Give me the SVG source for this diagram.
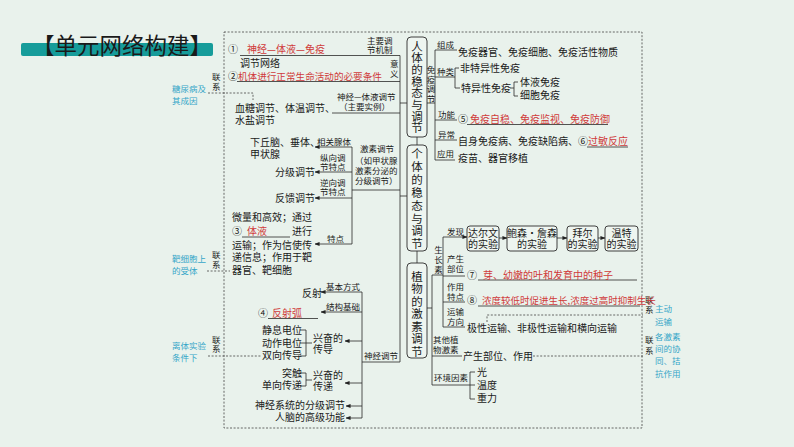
<svg xmlns="http://www.w3.org/2000/svg" width="794" height="447" viewBox="0 0 794 447">
<defs>
<marker id="ah" viewBox="0 0 6 6" refX="5.5" refY="3" markerWidth="5" markerHeight="5" orient="auto" markerUnits="userSpaceOnUse"><path d="M0,0.6 L6,3 L0,5.4z" fill="#222"/></marker>
<style>
text{font-family:"Noto Sans CJK SC","Noto Sans CJK JP",sans-serif;fill:#1a1a1a;font-size:10px}
.s{font-size:8.5px}
.r{fill:#d03a3a}
.c{fill:#35a6c8;font-size:8.5px}
.bx{font-size:11.5px}
.ln{stroke:#2a2a2a;stroke-width:0.8;fill:none}
.ar{stroke:#2a2a2a;stroke-width:0.8;fill:none;marker-end:url(#ah)}
.ds{stroke:#444;stroke-width:0.8;fill:none;stroke-dasharray:2 1.6}
.box{fill:#eef5f0;stroke:#2a2a2a;stroke-width:0.9}
</style>
</defs>
<rect width="794" height="447" fill="#e9f2ec"/>

<g id="title">
<rect x="21" y="43" width="192" height="13" rx="2" fill="#169c9a"/>
<text x="32" y="54" style="font-size:22.5px" fill="#111">【单元网络构建】</text>
</g>

<g id="frame"><rect x="224" y="32" width="418" height="396" class="ds"/></g>

<g id="connectors">
<path class="ln" d="M240,55.5 H400 V362 M237,81.5 H400 M332,113 H400 M400,103 H407 M400,196 H407 M352,190 H400 M362,362 H400"/>
<path class="ln" d="M417,137 V145 M417,251 V263"/>
<path class="ln" d="M352,147 V244"/>
<path class="ar" d="M352,147 H315"/>
<path class="ar" d="M352,172 H315"/>
<path class="ar" d="M352,198 H315"/>
<path class="ar" d="M352,244 H315"/>
<path class="ln" d="M242,237 H290"/>
<path class="ln" d="M362,292 V418"/>
<path class="ar" d="M362,292 H321"/>
<path class="ar" d="M362,312 H321"/>
<path class="ln" d="M268,318.5 H318"/>
<path class="ar" d="M362,341 H345"/>
<path class="ar" d="M362,383 H345"/>
<path class="ar" d="M362,406 H346"/>
<path class="ar" d="M362,418 H346"/>
<path class="ln" d="M300,330 H306 V356 H300 M300,343 H312"/>
<path class="ln" d="M300,373 H306 V386 H300 M306,380 H312"/>
<path class="ln" d="M427,103 H435 M435,50 V160 M435,50 H457 M435,77 H455 M455,68 V88 M455,68 H459 M455,88 H460 M435,120 H457 M435,140 H457 M435,160 H455"/>
<path class="ln" d="M510,88 H514 M514,82 V96 M514,82 H518 M514,96 H518"/>
<path class="ln" d="M467,124.5 H608 M587,147 H628"/>
<path class="ln" d="M427,308 H432 M432,275 V385 M432,275 H443 M443,237 V327 M443,276 H465 M443,302 H465 M443,327 H465 M432,356 H462 M432,385 H470 M470,372 V399 M470,372 H475 M470,385 H475 M470,399 H475"/>
<path class="ar" d="M443,237 H467"/>
<path class="ar" d="M499,238 H507"/>
<path class="ar" d="M557,238 H567"/>
<path class="ar" d="M598,238 H605"/>
<path class="ln" d="M478,280 H637 M478,306 H640"/>
<path class="ds" d="M208,93 H253 V100"/>
<path class="ds" d="M207,271 H230"/>
<path class="ds" d="M208,356 H262"/>
<path class="ds" d="M487,322 V315 H643"/>
<path class="ds" d="M533,356 H643"/>
</g>

<g id="box1">
<rect class="box" x="407" y="37" width="20" height="100" rx="4"/>
<text class="bx" text-anchor="middle"><tspan x="417" y="50.5">人</tspan><tspan x="417" y="62.2">体</tspan><tspan x="417" y="73.9">的</tspan><tspan x="417" y="85.6">稳</tspan><tspan x="417" y="97.3">态</tspan><tspan x="417" y="109">与</tspan><tspan x="417" y="120.7">调</tspan><tspan x="417" y="132.4">节</tspan></text>
</g>
<g id="box2">
<rect class="box" x="407" y="145" width="20" height="106" rx="4"/>
<text class="bx" text-anchor="middle"><tspan x="417" y="158">个</tspan><tspan x="417" y="170.9">体</tspan><tspan x="417" y="183.8">的</tspan><tspan x="417" y="196.7">稳</tspan><tspan x="417" y="209.6">态</tspan><tspan x="417" y="222.5">与</tspan><tspan x="417" y="235.4">调</tspan><tspan x="417" y="248.3">节</tspan></text>
</g>
<g id="box3">
<rect class="box" x="407" y="263" width="20" height="95" rx="4"/>
<text class="bx" text-anchor="middle"><tspan x="417" y="280.5">植</tspan><tspan x="417" y="293">物</tspan><tspan x="417" y="305.5">的</tspan><tspan x="417" y="318">激</tspan><tspan x="417" y="330.5">素</tspan><tspan x="417" y="343">调</tspan><tspan x="417" y="355.5">节</tspan></text>
</g>

<g id="links-left">
<text class="s" x="212" y="80">联</text><text class="s" x="212" y="90">系</text>
<text class="c" x="172" y="92">糖尿病及</text><text class="c" x="172" y="104">其成因</text>
<text class="s" x="212" y="258">联</text><text class="s" x="212" y="268">系</text>
<text class="c" x="172" y="262">靶细胞上</text><text class="c" x="172" y="274">的受体</text>
<text class="s" x="212" y="343">联</text><text class="s" x="212" y="352">系</text>
<text class="c" x="172" y="349">离体实验</text><text class="c" x="172" y="361">条件下</text>
</g>

<g id="links-right">
<text class="s" x="645" y="303">联</text><text class="s" x="645" y="313">系</text>
<text class="c" x="655" y="312">主动</text><text class="c" x="655" y="325">运输</text>
<text class="s" x="645" y="343">联</text><text class="s" x="645" y="354">系</text>
<text class="c" x="655" y="340">各激素</text><text class="c" x="655" y="352">间的协</text><text class="c" x="655" y="364">同、拮</text><text class="c" x="655" y="377">抗作用</text>
</g>

<g id="regulation-network">
<text x="228" y="53">①</text><text class="r" x="247" y="53">神经—体液—免疫</text>
<text class="s" x="367" y="44">主要调</text><text class="s" x="367" y="53">节机制</text>
<text x="240" y="67">调节网络</text>
<text x="228" y="80">②</text><text class="r" x="238" y="80" style="font-size:9.6px">机体进行正常生命活动的必要条件</text>
<text class="s" x="390" y="67">意</text><text class="s" x="390" y="77">义</text>
<text class="s" x="337" y="100">神经—体液调节</text><text class="s" x="339" y="110">（主要实例）</text>
<text x="235" y="112">血糖调节、体温调节、</text><text x="235" y="124">水盐调节</text>
</g>

<g id="hormone-regulation">
<text class="s" x="360" y="152">激素调节</text>
<text class="s" x="355" y="164">（如甲状腺</text>
<text class="s" x="355" y="174">激素分泌的</text>
<text class="s" x="355" y="184">分级调节）</text>
<text x="250" y="146">下丘脑、垂体、</text><text x="250" y="158">甲状腺</text>
<text class="s" x="317" y="145">相关腺体</text>
<text class="s" x="320" y="161">纵向调</text><text class="s" x="320" y="170">节特点</text>
<text x="275" y="176">分级调节</text>
<text class="s" x="320" y="186">逆向调</text><text class="s" x="320" y="195">节特点</text>
<text x="275" y="202">反馈调节</text>
<text class="s" x="327" y="242">特点</text>
<text x="232" y="221">微量和高效；通过</text>
<text x="232" y="235">③</text><text class="r" x="247" y="235">体液</text><text x="292" y="235">进行</text>
<text x="232" y="249">运输；作为信使传</text>
<text x="232" y="261">递信息；作用于靶</text>
<text x="232" y="274">器官、靶细胞</text>
</g>

<g id="nerve-regulation">
<text class="s" x="364" y="359">神经调节</text>
<text class="s" x="326" y="290">基本方式</text><text x="302" y="297">反射</text>
<text class="s" x="326" y="310">结构基础</text>
<text x="258" y="317">④</text><text class="r" x="272" y="317">反射弧</text>
<text x="262" y="334">静息电位</text><text x="262" y="347">动作电位</text><text x="262" y="359">双向传导</text>
<text x="313" y="342">兴奋的</text><text x="313" y="353">传导</text>
<text x="282" y="377">突触</text><text x="262" y="389">单向传递</text>
<text x="313" y="379">兴奋的</text><text x="313" y="390">传递</text>
<text x="255" y="409">神经系统的分级调节</text>
<text x="275" y="421">人脑的高级功能</text>
</g>

<g id="immune-regulation">
<text class="s" text-anchor="middle"><tspan x="431" y="73">免</tspan><tspan x="431" y="82.5">疫</tspan><tspan x="431" y="92">调</tspan><tspan x="431" y="101.5">节</tspan></text>
<text class="s" x="437" y="48">组成</text><text x="458" y="56">免疫器官、免疫细胞、免疫活性物质</text>
<text class="s" x="437" y="75">种类</text><text x="460" y="72">非特异性免疫</text><text x="461" y="92">特异性免疫</text>
<text x="520" y="86">体液免疫</text><text x="520" y="99">细胞免疫</text>
<text class="s" x="438" y="118">功能</text><text x="458" y="123">⑤</text><text class="r" x="470" y="123">免疫自稳、免疫监视、免疫防御</text>
<text class="s" x="438" y="138">异常</text><text x="458" y="145">自身免疫病、免疫缺陷病、⑥</text><text class="r" x="588" y="145">过敏反应</text>
<text class="s" x="437" y="157">应用</text><text x="458" y="162">疫苗、器官移植</text>
</g>

<g id="plant-hormone">
<text class="s" text-anchor="middle"><tspan x="438.5" y="253">生</tspan><tspan x="438.5" y="263">长</tspan><tspan x="438.5" y="273">素</tspan></text>
<text class="s" x="447" y="235">发现</text>
<text class="s" x="447" y="262">产生</text><text class="s" x="447" y="272">部位</text>
<text x="467" y="279">⑦</text><text class="r" x="483" y="279">芽、幼嫩的叶和发育中的种子</text>
<text class="s" x="447" y="290">作用</text><text class="s" x="447" y="300">特点</text>
<text x="467" y="304">⑧</text><text class="r" x="482" y="304" style="font-size:9.5px">浓度较低时促进生长,浓度过高时抑制生长</text>
<text class="s" x="447" y="315">运输</text><text class="s" x="447" y="325">方向</text>
<text x="467" y="332">极性运输、非极性运输和横向运输</text>
<text class="s" x="433" y="343">其他植</text><text class="s" x="433" y="353">物激素</text>
<text x="463" y="360">产生部位、作用</text>
<text class="s" x="434" y="381">环境因素</text>
<text x="477" y="376">光</text><text x="477" y="389">温度</text><text x="477" y="402">重力</text>
</g>

<g id="exp-darwin"><rect class="box" x="467" y="226" width="32" height="25" rx="3"/><text text-anchor="middle"><tspan x="483" y="236.5">达尔文</tspan><tspan x="483" y="248">的实验</tspan></text></g>
<g id="exp-boysen"><rect class="box" x="507" y="226" width="50" height="25" rx="3"/><text text-anchor="middle"><tspan x="532" y="236.5">鲍森·詹森</tspan><tspan x="532" y="248">的实验</tspan></text></g>
<g id="exp-paal"><rect class="box" x="567" y="226" width="31" height="25" rx="3"/><text text-anchor="middle"><tspan x="582.5" y="236.5">拜尔</tspan><tspan x="582.5" y="248">的实验</tspan></text></g>
<g id="exp-went"><rect class="box" x="605" y="226" width="33" height="25" rx="3"/><text text-anchor="middle"><tspan x="621.5" y="236.5">温特</tspan><tspan x="621.5" y="248">的实验</tspan></text></g>
</svg>
